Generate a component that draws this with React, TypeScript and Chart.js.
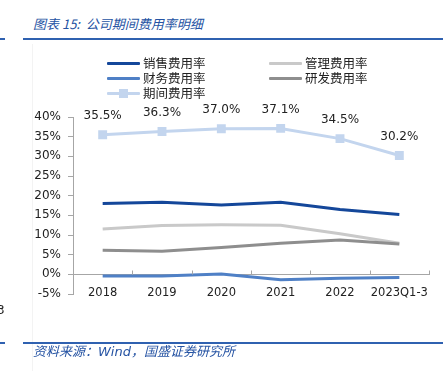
import React, { useEffect, useRef } from "react";
import { Chart, registerables } from "chart.js";

Chart.register(...registerables);

const categories = ["2018", "2019", "2020", "2021", "2022", "2023Q1-3"];
const salesRate = [18.0, 18.3, 17.6, 18.3, 16.5, 15.2];
const adminRate = [11.5, 12.4, 12.6, 12.5, 10.3, 7.9];
const financeRate = [-0.4, -0.4, 0.1, -1.4, -1.0, -0.8];
const rdRate = [6.1, 5.9, 6.8, 7.9, 8.7, 7.7];
const periodRate = [35.5, 36.3, 37.0, 37.1, 34.5, 30.2];
const yTicks = [-5, 0, 5, 10, 15, 20, 25, 30, 35, 40];

const C_SALES = "#14479a";
const C_ADMIN = "#c9c9c9";
const C_FIN = "#4f80c6";
const C_RD = "#8e8e8e";
const C_PERIOD = "#c3d5ee";

const FONT = "'DejaVu Sans', Verdana, sans-serif";
const CJK = "'Noto Sans CJK SC', sans-serif";

const labelPlugin = {
  id: "periodLabels",
  afterDatasetsDraw(chart: any) {
    const ctx = chart.ctx;
    const meta = chart.getDatasetMeta(4);
    ctx.save();
    ctx.font = "12px " + FONT;
    ctx.fillStyle = "#222";
    ctx.textAlign = "center";
    ctx.textBaseline = "middle";
    meta.data.forEach((pt: any, i: number) => {
      ctx.fillText(periodRate[i].toFixed(1) + "%", pt.x, pt.y - 18.5);
    });
    ctx.restore();
  },
};

const xTickPlugin = {
  id: "xInsideTicks",
  afterDraw(chart: any) {
    const x = chart.scales.x;
    const y = chart.scales.y;
    const ctx = chart.ctx;
    const y0 = Math.round(y.getPixelForValue(0)) + 0.5;
    const n = categories.length;
    const w = (x.right - x.left) / n;
    ctx.save();
    ctx.strokeStyle = "#a6a6a6";
    ctx.lineWidth = 1;
    ctx.beginPath();
    for (let i = 1; i <= n; i++) {
      const px = Math.round(x.left + i * w) + 0.5;
      ctx.moveTo(px, y0);
      ctx.lineTo(px, y0 - 4);
    }
    ctx.stroke();
    ctx.restore();
  },
};

function LegendItem({ color, label, marker, x, y }: any) {
  return (
    <div style={{ position: "absolute", left: x, top: y - 9, height: 18, display: "flex", alignItems: "center" }}>
      <div style={{ position: "relative", width: 33, height: 3, background: color, borderRadius: 1 }}>
        {marker ? (
          <div style={{ position: "absolute", left: 12, top: -3, width: 9, height: 9, background: color }} />
        ) : null}
      </div>
      <span style={{ marginLeft: 3, font: "12.5px " + CJK, color: "#222", lineHeight: "18px" }}>{label}</span>
    </div>
  );
}

export default function App() {
  const ref = useRef<HTMLCanvasElement | null>(null);

  useEffect(() => {
    if (!ref.current) return;
    const ds = (label: string, data: number[], color: string, order: number, extra: any = {}) => ({
      label,
      data,
      borderColor: color,
      backgroundColor: color,
      borderWidth: 3,
      pointRadius: 0,
      tension: 0,
      order,
      ...extra,
    });
    const chart = new Chart(ref.current, {
      type: "line",
      data: {
        labels: categories,
        datasets: [
          ds("销售费用率", salesRate, C_SALES, 1),
          ds("管理费用率", adminRate, C_ADMIN, 3),
          ds("财务费用率", financeRate, C_FIN, 2),
          ds("研发费用率", rdRate, C_RD, 2),
          ds("期间费用率", periodRate, C_PERIOD, 0, {
            pointRadius: 6.3,
            pointStyle: "rect",
            pointBorderWidth: 0,
            pointBackgroundColor: C_PERIOD,
          }),
        ],
      },
      options: {
        animation: false,
        responsive: false,
        maintainAspectRatio: false,
        layout: { padding: { top: 117, bottom: 77, left: 20, right: 14 } },
        plugins: { legend: { display: false }, tooltip: { enabled: false } },
        scales: {
          x: {
            type: "category",
            offset: true,
            position: { y: 0 } as any,
            grid: { display: false, drawTicks: false },
            border: { display: true, color: "#a6a6a6", width: 1 },
            ticks: { color: "#222", font: { family: FONT, size: 11.5 }, padding: 12, maxRotation: 0, autoSkip: false },
          },
          y: {
            type: "linear",
            min: -5,
            max: 40,
            afterBuildTicks(scale: any) {
              scale.ticks = yTicks.map((v) => ({ value: v }));
            },
            afterFit(scale: any) {
              scale.width = 53;
            },
            grid: { drawOnChartArea: false, drawTicks: true, tickLength: 5, color: "#a6a6a6" },
            border: { display: true, color: "#a6a6a6", width: 1 },
            ticks: {
              color: "#222",
              font: { family: FONT, size: 12 },
              padding: 7,
              callback: (v: any) => v + "%",
            },
          },
        },
      },
      plugins: [labelPlugin, xTickPlugin],
    });
    return () => chart.destroy();
  }, []);

  return (
    <div style={{ position: "fixed", left: 0, top: 0, width: 443, height: 371, background: "#fff", overflow: "hidden" }}>
      <div style={{ position: "absolute", left: 32, top: 44, width: 1, height: 327, background: "#f3f3f3" }} />
      <div
        style={{
          position: "absolute",
          left: 33,
          top: 15,
          font: "italic 13px " + CJK,
          color: "#2553a3",
          whiteSpace: "nowrap",
          lineHeight: "18px",
        }}
      >
        图表 15:&nbsp;&nbsp;公司期间费用率明细
      </div>
      <div style={{ position: "absolute", left: 0, top: 38, width: 5, height: 2, background: "#2f61b0" }} />
      <div style={{ position: "absolute", left: 23, top: 38, width: 420, height: 2, background: "#2f61b0" }} />
      <canvas ref={ref} width={443} height={371} style={{ position: "absolute", left: 0, top: 0 }} />
      <LegendItem color={C_SALES} label="销售费用率" x={107} y={63} />
      <LegendItem color={C_ADMIN} label="管理费用率" x={269} y={63} />
      <LegendItem color={C_FIN} label="财务费用率" x={107} y={78} />
      <LegendItem color={C_RD} label="研发费用率" x={269} y={78} />
      <LegendItem color={C_PERIOD} label="期间费用率" x={107} y={93} marker />
      <div style={{ position: "absolute", left: -3, top: 303, font: "12px " + FONT, color: "#222" }}>3</div>
      <div style={{ position: "absolute", left: 0, top: 342, width: 5, height: 1.5, background: "#2f61b0" }} />
      <div style={{ position: "absolute", left: 23, top: 342, width: 420, height: 1.5, background: "#2f61b0" }} />
      <div
        style={{
          position: "absolute",
          left: 33,
          top: 342,
          font: "italic 13px " + CJK,
          color: "#2553a3",
          whiteSpace: "nowrap",
          lineHeight: "18px",
        }}
      >
        资料来源：<span style={{ fontFamily: FONT }}>Wind</span>，国盛证券研究所
      </div>
    </div>
  );
}
